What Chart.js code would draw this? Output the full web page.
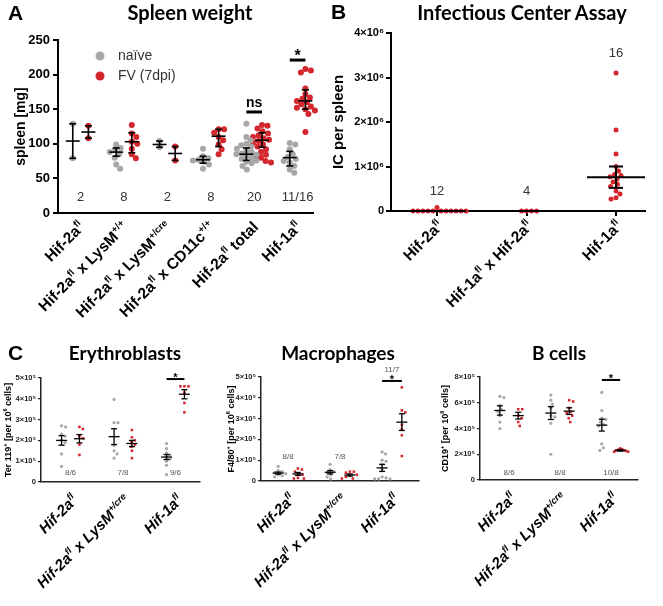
<!DOCTYPE html>
<html><head><meta charset="utf-8">
<script src="https://cdn.jsdelivr.net/npm/chart.js@4.4.1/dist/chart.umd.min.js"></script>
<style>
html,body{margin:0;padding:0;background:#fff;}
#wrap{position:relative;width:663px;height:606px;overflow:hidden;background:#fff;}
canvas{position:absolute;}
.t{position:absolute;font-family:Lato,'Liberation Sans',sans-serif;font-weight:bold;color:#000;white-space:nowrap;text-align:center;}
.p{position:absolute;font-family:'Liberation Sans',Arial,sans-serif;font-weight:bold;color:#000;white-space:nowrap;}
</style></head><body>
<div id="wrap">
<canvas id="cA" width="330" height="340" style="left:0;top:0"></canvas>
<canvas id="cB" width="333" height="340" style="left:330px;top:0"></canvas>
<canvas id="cE" width="220" height="281" style="left:0;top:325px"></canvas>
<canvas id="cM" width="220" height="281" style="left:220px;top:325px"></canvas>
<canvas id="cC" width="223" height="281" style="left:440px;top:325px"></canvas>
<div class="p" style="left:8px;top:2px;font-size:21px;line-height:21px">A</div>
<div class="t" style="left:90px;width:200px;top:2px;font-size:20px;line-height:20px">Spleen weight</div>
<div class="p" style="left:331px;top:1px;font-size:21px;line-height:21px">B</div>
<div class="t" style="left:402px;width:240px;top:2px;font-size:20px;line-height:20px">Infectious Center Assay</div>
<div class="p" style="left:8px;top:342px;font-size:21px;line-height:21px">C</div>
<div class="t" style="left:45px;width:160px;top:343px;font-size:19px;line-height:19px">Erythroblasts</div>
<div class="t" style="left:258px;width:160px;top:343px;font-size:19px;line-height:19px">Macrophages</div>
<div class="t" style="left:489px;width:140px;top:343px;font-size:19px;line-height:19px">B cells</div>
</div>
<script>
// ---------------- DATA ----------------
// Panel A: spleen weight [mg]
const groupsA = ['Hif-2a^{fl}','Hif-2a^{fl} x LysM^{+/+}','Hif-2a^{fl} x LysM^{+/cre}','Hif-2a^{fl} x CD11c^{+/+}','Hif-2a^{fl} total','Hif-1a^{fl}'];
const countsA = ['2','8','2','8','20','11/16'];
const ticksA = [0,50,100,150,200,250];
const naiveA = [
  [129, 79],
  [99, 94, 91, 88, 85, 80, 70, 64],
  [104, 95],
  [93, 82, 79, 77, 76, 74, 70, 64],
  [129, 110, 105, 100, 98, 96, 93, 90, 88, 86, 85, 84, 82, 80, 78, 76, 74, 72, 68, 63],
  [101, 99, 92, 85, 81, 78, 75, 73, 68, 63, 58]
];
const fvA = [
  [126, 108],
  [127, 115, 110, 103, 100, 93, 85, 79],
  [96, 76],
  [121, 121, 116, 110, 105, 99, 92, 85],
  [127, 126, 122, 118, 115, 112, 110, 108, 106, 104, 102, 99, 96, 92, 88, 84, 80, 78, 75, 73],
  [208, 206, 203, 180, 172, 167, 165, 162, 160, 157, 154, 152, 150, 148, 143, 117]
];
const naiveMeanA = [104, 88, 99, 77, 85, 80];
const naiveLowA  = [79, 82, 95, 72, 76, 68];
const naiveHighA = [129, 94, 104, 82, 94, 89];
const fvMeanA = [117, 103, 86, 111, 105, 162];
const fvLowA  = [108, 87, 76, 96, 95, 150];
const fvHighA = [126, 116, 96, 121, 116, 178];

// Panel B: infectious centers per spleen
const groupsB = ['Hif-2a^{fl}','Hif-1a^{fl} x Hif-2a^{fl}','Hif-1a^{fl}'];
const countsB = ['12','4','16'];
const ticksB = [0,1000000,2000000,3000000,4000000];
const icB = [
  [0,0,0,0,0,0,0,0,0,0,0,80000],
  [0,0,0,0],
  [3100000,1820000,1280000,1000000,900000,820000,800000,770000,720000,650000,600000,550000,450000,380000,300000,270000]
];
const icMedianB = [0, 0, 760000];
const icLowB    = [0, 0, 520000];
const icHighB   = [0, 0, 1000000];

// Panel C
const groupsC = ['Hif-2a^{fl}','Hif-2a^{fl} x LysM^{+/cre}','Hif-1a^{fl}'];
// Erythroblasts (Ter119+ per 10^6 cells)
const countsEry = ['8/6','7/8','9/6'];
const naiveEry = [
  [270000,265000,230000,220000,200000,190000,135000,75000],
  [397000,285000,285000,175000,150000,135000,115000],
  [185000,160000,140000,130000,120000,110000,100000,80000,35000]
];
const fvEry = [
  [265000,255000,220000,210000,180000,130000],
  [250000,215000,200000,190000,180000,170000,150000,115000],
  [460000,460000,460000,430000,380000,335000]
];
const naiveMeanEry = [200000,218000,120000], naiveErrEry = [23000,38000,12000];
const fvMeanEry = [208000,185000,422000], fvErrEry = [20000,15000,22000];
// Macrophages (F4/80+ per 10^6 cells)
const countsMac = ['8/8','7/8','11/7'];
const naiveMac = [
  [70000,50000,45000,40000,35000,30000,25000,20000],
  [80000,55000,45000,40000,30000,20000,10000],
  [140000,130000,100000,95000,80000,55000,20000,15000,10000,10000,10000]
];
const fvMac = [
  [60000,55000,45000,35000,30000,15000,12000,12000],
  [45000,45000,40000,30000,25000,20000,12000,12000],
  [450000,340000,330000,270000,250000,220000,120000]
];
const naiveMeanMac = [38000,42000,63000], naiveErrMac = [5000,8000,17000];
const fvMeanMac = [34000,29000,283000], fvErrMac = [7000,5000,40000];
// B cells (CD19+ per 10^6 cells)
const countsBc = ['8/6','8/8','10/8'];
const naiveBc = [
  [650000,640000,580000,550000,530000,500000,450000,400000],
  [660000,620000,590000,560000,500000,490000,440000,200000],
  [680000,540000,480000,470000,450000,430000,420000,280000,250000,230000]
];
const fvBc = [
  [550000,550000,500000,480000,450000,420000],
  [620000,610000,560000,530000,520000,500000,480000,450000],
  [245000,240000,235000,230000,230000,225000,220000,220000]
];
const naiveMeanBc = [540000,520000,426000], naiveErrBc = [36000,50000,46000];
const fvMeanBc = [500000,535000,230000], fvErrBc = [26000,26000,6000];

// ---------------- HELPERS ----------------
const FONT = "'Liberation Sans', Arial, sans-serif";
const GRAY = '#a7a7a7', RED = '#d3262d';

function parseRich(s){
  const parts=[]; const re=/\^\{([^}]*)\}/g; let last=0,m;
  while((m=re.exec(s))){ if(m.index>last) parts.push({t:s.slice(last,m.index),sup:false}); parts.push({t:m[1],sup:true}); last=re.lastIndex; }
  if(last<s.length) parts.push({t:s.slice(last),sup:false});
  return parts;
}
function drawRich(ctx,s,x,y,size,o){
  ctx.save(); ctx.translate(x,y); if(o.rotate) ctx.rotate(o.rotate);
  const parts=parseRich(s);
  const f=(sz)=>`${o.style||'normal'} ${o.weight||'normal'} ${sz}px ${FONT}`;
  const ws=parts.map(p=>{ctx.font=f(p.sup?size*0.62:size); return ctx.measureText(p.t).width;});
  const total=ws.reduce((a,b)=>a+b,0);
  let cx = o.align==='right'?-total:(o.align==='center'?-total/2:0);
  ctx.textAlign='left'; ctx.textBaseline=o.baseline||'alphabetic'; ctx.fillStyle=o.color||'#000';
  parts.forEach((p,i)=>{ ctx.font=f(p.sup?size*0.62:size); ctx.fillText(p.t,cx,p.sup?-size*0.4:0); cx+=ws[i]; });
  ctx.restore();
}
// deterministic beeswarm: spreads points of equal value sideways, limited to maxW px
function swarm(vals, center, pxX, pxY, d, maxW){
  const order = vals.map((v,i)=>i).sort((a,b)=>vals[b]-vals[a]);
  const placed=[], offs=new Array(vals.length);
  order.forEach(i=>{
    const py=vals[i]*pxY; let off=0;
    for(let k=0;k<500;k++){
      const c=(k%2?1:-1)*Math.ceil(k/2)*0.5;
      if(placed.every(p=>(p.x-c)*(p.x-c)+(p.y-py)*(p.y-py)>=d*d)){off=c;break;}
    }
    placed.push({x:off,y:py}); offs[i]=off;
  });
  const mx=Math.max(...offs.map(Math.abs));
  const k=mx>maxW?maxW/mx:1;
  return vals.map((v,i)=>({x:center+offs[i]*k/pxX, y:v}));
}
function band(mean, err){ return {lo:mean.map((m,i)=>m-err[i]), hi:mean.map((m,i)=>m+err[i])}; }

function makeDeco(cfg){
  const seg=(ctx,x1,y1,x2,y2)=>{ctx.beginPath();ctx.moveTo(x1,y1);ctx.lineTo(x2,y2);ctx.stroke();};
  return {
    id:'deco',
    afterDatasetsDraw(chart){
      const ctx=chart.ctx, xs=chart.scales.x, ys=chart.scales.y;
      ctx.save(); ctx.strokeStyle='#000'; ctx.lineWidth=cfg.errLW; ctx.lineCap='butt';
      cfg.series.forEach(s=>{
        s.mean.forEach((m,g)=>{
          const cx=xs.getPixelForValue(g+1+s.off), ym=ys.getPixelForValue(m),
                yl=ys.getPixelForValue(s.lo[g]), yh=ys.getPixelForValue(s.hi[g]);
          seg(ctx,cx,yl,cx,yh);
          seg(ctx,cx-cfg.capW,yl,cx+cfg.capW,yl);
          seg(ctx,cx-cfg.capW,yh,cx+cfg.capW,yh);
          seg(ctx,cx-cfg.meanW,ym,cx+cfg.meanW,ym);
        });
      });
      ctx.restore();
    },
    afterDraw(chart){
      const ctx=chart.ctx, a=chart.chartArea, xs=chart.scales.x, ys=chart.scales.y;
      cfg.groups.forEach((lab,i)=>{
        drawRich(ctx,lab,xs.getPixelForValue(i+1)+cfg.labDX,a.bottom+cfg.labDY,cfg.labSize,
          {weight:'bold',style:cfg.labStyle,align:'right',rotate:-Math.PI/4});
      });
      ctx.save(); ctx.fillStyle=cfg.nColor; ctx.font=cfg.nFont; ctx.textAlign='center'; ctx.textBaseline='middle';
      cfg.counts.forEach((t,i)=>{ const yv=Array.isArray(cfg.nY)?cfg.nY[i]:cfg.nY; ctx.fillText(t,xs.getPixelForValue(i+1),ys.getPixelForValue(yv)); });
      ctx.restore();
      (cfg.sig||[]).forEach(s=>{
        const x1=xs.getPixelForValue(s.g-cfg.off), x2=xs.getPixelForValue(s.g+cfg.off), y=ys.getPixelForValue(s.y);
        ctx.save(); ctx.strokeStyle='#000'; ctx.lineWidth=s.lw; seg(ctx,x1,y,x2,y);
        ctx.fillStyle='#000'; ctx.font=s.font; ctx.textAlign='center'; ctx.textBaseline='alphabetic';
        ctx.fillText(s.text,(x1+x2)/2,y+s.dy); ctx.restore();
      });
      drawRich(ctx,cfg.yTitle,cfg.yTitleX,(a.top+a.bottom)/2,cfg.yTitleSize,{weight:'bold',align:'center',baseline:'middle',rotate:-Math.PI/2});
      (cfg.legend||[]).forEach(l=>{
        ctx.save(); ctx.fillStyle=l.color; ctx.beginPath(); ctx.arc(l.x,l.y,l.r,0,Math.PI*2); ctx.fill();
        ctx.fillStyle='#333'; ctx.font=l.font; ctx.textBaseline='middle'; ctx.textAlign='left'; ctx.fillText(l.text,l.tx,l.y); ctx.restore();
      });
    }
  };
}

function build(id,cfg){
  const pxX=cfg.areaW/(cfg.xMax-cfg.xMin), pxY=cfg.areaH/(cfg.yMax-cfg.yMin);
  const datasets=cfg.series.map(s=>({
    data:s.values.flatMap((vals,g)=>swarm(vals,g+1+s.off,pxX,pxY,cfg.d,cfg.maxW)),
    backgroundColor:s.color, borderColor:s.color, borderWidth:0,
    pointRadius:s.r, pointHoverRadius:s.r, pointStyle:s.style||'circle', clip:false
  }));
  return new Chart(document.getElementById(id),{
    type:'scatter', data:{datasets},
    options:{
      responsive:false, animation:false, devicePixelRatio:1, events:[],
      layout:{padding:cfg.pad},
      plugins:{legend:{display:false}, tooltip:{enabled:false}},
      scales:{
        x:{type:'linear', min:cfg.xMin, max:cfg.xMax,
           afterFit:s=>{s.height=cfg.xH;},
           afterBuildTicks:s=>{s.ticks=cfg.groups.map((_,i)=>({value:i+1}));},
           ticks:{display:false},
           grid:{display:!!cfg.xTick, drawOnChartArea:false, tickLength:cfg.xTick||1, color:cfg.axisColor, lineWidth:cfg.axisLW},
           border:{display:true, color:cfg.axisColor, width:cfg.axisLW}},
        y:{type:'linear', min:cfg.yMin, max:cfg.yMax,
           afterFit:s=>{s.width=cfg.yW;},
           afterBuildTicks:s=>{s.ticks=cfg.yTicks.map(v=>({value:v}));},
           ticks:{color:cfg.axisColor, font:cfg.tickFont, padding:cfg.tickPad, callback:cfg.tickFmt},
           grid:{display:true, drawOnChartArea:false, tickLength:cfg.yTick, color:cfg.axisColor, lineWidth:cfg.tickLW},
           border:{display:true, color:cfg.axisColor, width:cfg.axisLW}}
      }
    },
    plugins:[makeDeco(cfg)]
  });
}

// ---------------- CHARTS ----------------
const offA=0.18;
build('cA',{
  pad:{left:0,top:40,right:17,bottom:0}, yW:58, xH:127, areaW:255, areaH:173,
  xMin:0.48, xMax:6.355, yMin:0, yMax:250, yTicks:ticksA,
  tickFont:{family:FONT,size:13,weight:'bold'}, tickPad:3, tickFmt:v=>String(v), yTick:5, tickLW:2,
  axisColor:'#000', axisLW:2, d:5.5, maxW:10,
  groups:groupsA, counts:countsA, nY:23, nFont:`13px ${FONT}`, nColor:'#333',
  labDX:5, labDY:15, labSize:15.5, labStyle:'normal',
  yTitle:'spleen [mg]', yTitleX:21, yTitleSize:14,
  errLW:1.6, capW:3.5, meanW:7, off:offA,
  series:[
    {values:naiveA, off:-offA, color:GRAY, r:3, mean:naiveMeanA, lo:naiveLowA, hi:naiveHighA},
    {values:fvA, off:offA, color:RED, r:3, mean:fvMeanA, lo:fvLowA, hi:fvHighA}
  ],
  sig:[{g:5,y:146,text:'ns',font:`bold 14px ${FONT}`,lw:3,dy:-5},{g:6,y:221,text:'*',font:`bold 16px ${FONT}`,lw:3,dy:1}],
  legend:[{color:GRAY,x:100,y:56,r:4.5,text:'naïve',tx:118,font:`14px ${FONT}`},
          {color:RED,x:100,y:76,r:4.5,text:'FV (7dpi)',tx:118,font:`14px ${FONT}`}]
});

build('cB',{
  pad:{left:0,top:33,right:18,bottom:0}, yW:61, xH:129, areaW:254, areaH:178,
  xMin:0.486, xMax:3.324, yMin:0, yMax:4000000, yTicks:ticksB,
  tickFont:{family:FONT,size:11,weight:'bold'}, tickPad:2,
  tickFmt:v=>v===0?'0':Math.round(v/1e6)+'×10⁶', yTick:5, tickLW:2, xTick:5,
  axisColor:'#000', axisLW:2, d:5, maxW:30,
  groups:groupsB, counts:countsB, nY:[450000,450000,3550000], nFont:`13px ${FONT}`, nColor:'#333',
  labDX:7, labDY:16, labSize:15.5, labStyle:'normal',
  yTitle:'IC per spleen', yTitleX:9, yTitleSize:15,
  errLW:2, capW:7, meanW:29, off:0,
  series:[{values:icB, off:0, color:RED, r:2.5, mean:icMedianB, lo:icLowB, hi:icHighB}]
});

const offE=0.17, offM=0.19, offC=0.18;
const cCommon={
  tickFont:{family:FONT,size:7.5,weight:'bold'}, tickPad:2,
  tickFmt:v=>v===0?'0':Math.round(v/1e5)+'×10⁵', yTick:3, tickLW:1.3,
  axisColor:'#222', axisLW:1.5, d:4, maxW:8,
  nFont:`8px ${FONT}`, nColor:'#555',
  labDX:8, labDY:19, labSize:15, labStyle:'italic',
  yTitleSize:9, errLW:1.3, capW:3, meanW:5.5
};
const eN=band(naiveMeanEry,naiveErrEry), eF=band(fvMeanEry,fvErrEry);
build('cE',Object.assign({},cCommon,{
  pad:{left:0,top:53,right:20,bottom:0}, yW:41, xH:124, areaW:159, areaH:104,
  xMin:0.438, xMax:3.467, yMin:0, yMax:500000, yTicks:[0,100000,200000,300000,400000,500000],
  groups:groupsC, counts:countsEry, nY:43000, yTitle:'Ter 119^{+} [per 10^{6} cells]', yTitleX:9, off:offE,
  series:[
    {values:naiveEry, off:-offE, color:GRAY, r:1.6, mean:naiveMeanEry, lo:eN.lo, hi:eN.hi},
    {values:fvEry, off:offE, color:RED, r:1.8, style:'rect', mean:fvMeanEry, lo:eF.lo, hi:eF.hi}
  ],
  sig:[{g:3,y:495000,text:'*',font:`bold 11px ${FONT}`,lw:2,dy:2}]
}));
const mN=band(naiveMeanMac,naiveErrMac), mF=band(fvMeanMac,fvErrMac);
build('cM',Object.assign({},cCommon,{
  pad:{left:0,top:52,right:21,bottom:0}, yW:41, xH:125, areaW:158, areaH:104,
  xMin:0.48, xMax:3.52, yMin:0, yMax:500000, yTicks:[0,100000,200000,300000,400000,500000],
  groups:groupsC, counts:countsMac, nY:[115000,115000,534000], yTitle:'F4/80^{+} [per 10^{6} cells]', yTitleX:12, off:offM,
  series:[
    {values:naiveMac, off:-offM, color:GRAY, r:1.6, mean:naiveMeanMac, lo:mN.lo, hi:mN.hi},
    {values:fvMac, off:offM, color:RED, r:1.8, style:'rect', mean:fvMeanMac, lo:mF.lo, hi:mF.hi}
  ],
  sig:[{g:3,y:481000,text:'*',font:`bold 11px ${FONT}`,lw:2,dy:2}]
}));
const bN=band(naiveMeanBc,naiveErrBc), bF=band(fvMeanBc,fvErrBc);
build('cC',Object.assign({},cCommon,{
  pad:{left:0,top:52,right:25,bottom:0}, yW:40, xH:126, areaW:158, areaH:103,
  xMin:0.43, xMax:3.53, yMin:0, yMax:800000, yTicks:[0,200000,400000,600000,800000],
  groups:groupsC, counts:countsBc, nY:54000, yTitle:'CD19^{+} [per 10^{6} cells]', yTitleX:6, off:offC,
  series:[
    {values:naiveBc, off:-offC, color:GRAY, r:1.6, mean:naiveMeanBc, lo:bN.lo, hi:bN.hi},
    {values:fvBc, off:offC, color:RED, r:1.8, style:'rect', mean:fvMeanBc, lo:bF.lo, hi:bF.hi}
  ],
  sig:[{g:3,y:777000,text:'*',font:`bold 11px ${FONT}`,lw:2,dy:2}]
}));
</script>
</body></html>
